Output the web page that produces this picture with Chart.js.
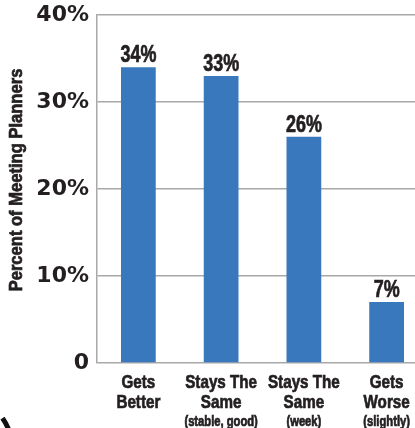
<!DOCTYPE html>
<html>
<head>
<meta charset="utf-8">
<script src="https://cdn.jsdelivr.net/npm/chart.js@4/dist/chart.umd.min.js"></script>
<style>
  html, body { margin: 0; padding: 0; background: #fff; overflow: hidden; }
  #wrap { width: 430px; height: 428px; }
</style>
</head>
<body>
<div id="wrap"><canvas id="grafico"></canvas></div>
<script>
// dados do grafico
const categorias = [['Gets', 'Better'], ['Stays The', 'Same'], ['Stays The', 'Same'], ['Gets', 'Worse']];
const subtitulos = ['', '(stable, good)', '(week)', '(slightly)'];
const valores = [34, 33, 26, 7];
const ticksY = [0, 10, 20, 30, 40];
const tituloY = 'Percent of Meeting Planners';

const corTexto = '#231f20';
const corBarra = '#3a78be';
const corGrade = '#a8a8a8';
const fonte = '"Liberation Sans", Arial, sans-serif';

// texto "condensado" (a fonte original e uma Helvetica condensada)
function textoEstreito(ctx, texto, x, y, tamanho, escala) {
    ctx.save();
    ctx.font = 'bold ' + tamanho + 'px ' + fonte;
    ctx.translate(x, y);
    ctx.scale(escala, 1);
    ctx.lineWidth = 0.7;
    ctx.strokeStyle = corTexto;
    ctx.strokeText(texto, 0, 0);
    ctx.fillText(texto, 0, 0);
    ctx.restore();
}

const pluginTextos = {
    id: 'textos',
    afterDraw(chart) {
        const ctx = chart.ctx;
        const area = chart.chartArea;
        const meta = chart.getDatasetMeta(0);
        const escalaX = chart.scales.x;
        ctx.save();
        ctx.fillStyle = corTexto;
        ctx.textAlign = 'center';
        ctx.textBaseline = 'alphabetic';

        // valores em cima das barras
        meta.data.forEach((barra, i) => {
            textoEstreito(ctx, valores[i] + '%', barra.x, barra.y - 5, 23, 0.78);
        });

        // rotulos das categorias
        categorias.forEach((linhas, i) => {
            const x = escalaX.getPixelForValue(i);
            linhas.forEach((l, j) => {
                textoEstreito(ctx, l, x, area.bottom + 25 + j * 20, 19, 0.8);
            });
            if (subtitulos[i]) textoEstreito(ctx, subtitulos[i], x, area.bottom + 63, 14, 0.8);
        });

        // titulo do eixo y
        ctx.save();
        ctx.translate(22, (area.top + area.bottom) / 2 - 9);
        ctx.rotate(-Math.PI / 2);
        textoEstreito(ctx, tituloY, 0, 0, 18, 0.92);
        ctx.restore();

        // pedaco do circulo preto no canto
        ctx.beginPath();
        ctx.strokeStyle = '#111';
        ctx.lineWidth = 5;
        ctx.arc(-47, 452, 60, -0.6, -0.2);
        ctx.stroke();
        ctx.restore();
    }
};

const ctx_grafico = document.getElementById('grafico');

new Chart(ctx_grafico, {
    type: 'bar',
    data: {
        labels: categorias,
        datasets: [{
            data: valores,
            backgroundColor: corBarra,
            borderWidth: 0,
            barPercentage: 0.42,
            categoryPercentage: 1
        }]
    },
    options: {
        responsive: true,
        maintainAspectRatio: false,
        animation: false,
        layout: {
            padding: { top: 15, right: 2, left: 0, bottom: 0 }
        },
        plugins: {
            legend: { display: false },
            tooltip: { enabled: false }
        },
        scales: {
            x: {
                grid: { display: false },
                border: { display: false },
                ticks: { display: false },
                afterFit(escala) { escala.height = 65; }
            },
            y: {
                min: 0,
                max: 40,
                afterBuildTicks(escala) {
                    escala.ticks = ticksY.map(v => ({ value: v }));
                },
                grid: {
                    color: corGrade,
                    lineWidth: 1.5,
                    drawTicks: false
                },
                border: { display: true, color: corGrade, width: 1.5 },
                ticks: {
                    color: corTexto,
                    padding: 8,
                    font: { family: '"DejaVu Sans", sans-serif', size: 22, weight: 'bold' },
                    callback: v => v === 0 ? '0' : v + '%'
                },
                afterFit(escala) {
                    escala.width = 97;
                    escala.paddingTop = 0;
                    escala.paddingBottom = 0;
                }
            }
        }
    },
    plugins: [pluginTextos]
});
</script>
</body>
</html>
